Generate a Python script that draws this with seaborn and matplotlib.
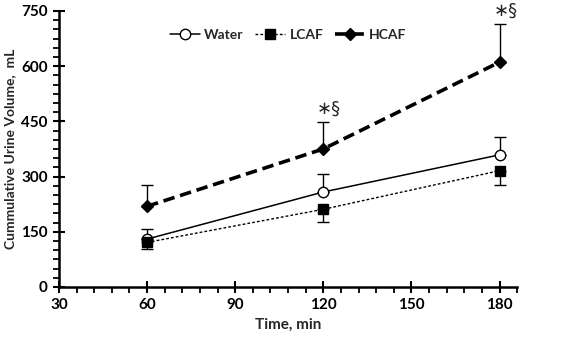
import matplotlib
matplotlib.use("Agg")
import matplotlib.pyplot as plt
import seaborn as sns
import pandas as pd
from matplotlib.ticker import MultipleLocator

times = [60, 120, 180]
water = [130, 258, 359]
water_err = [27, 48, 49]
lcaf = [121, 211, 316]
lcaf_err = [18, 34, 40]
hcaf = [219, 375, 611]
hcaf_err = [57, 74, 104]
x_ticks = [30, 60, 90, 120, 150, 180]
y_ticks = [0, 150, 300, 450, 600, 750]
sig_label = "∗§"
sig_times = [120, 180]

sns.set_theme(style="ticks")
plt.rcParams['font.family'] = ['Lato', 'DejaVu Sans']

fig = plt.figure(figsize=(5.61, 3.42), dpi=100)
ax = fig.add_axes([0.105, 0.161, 0.817, 0.807])

df = pd.DataFrame({
    "Time": times * 3,
    "Volume": water + lcaf + hcaf,
    "Group": ["Water"] * 3 + ["LCAF"] * 3 + ["HCAF"] * 3,
})

styles = {
    "Water": dict(lw=1.1, marker="o", mfc="white", ms=7.5, dashes=None),
    "LCAF": dict(lw=1.0, marker="s", mfc="black", ms=7.5, dashes=(2, 1.5)),
    "HCAF": dict(lw=2.6, marker="D", mfc="black", ms=6.5, dashes=(3.2, 1.6)),
}
errs = {"Water": (water, water_err, "up"), "LCAF": (lcaf, lcaf_err, "down"),
        "HCAF": (hcaf, hcaf_err, "up")}

for g in ["Water", "LCAF", "HCAF"]:
    vals, e, d = errs[g]
    zeros = [0] * len(e)
    yerr = [zeros, e] if d == "up" else [e, zeros]
    ax.errorbar(times, vals, yerr=yerr, fmt="none", ecolor="black", elinewidth=1.0,
                capsize=4, capthick=1.0, zorder=2)
    st = styles[g]
    sub = df[df.Group == g]
    sns.lineplot(data=sub, x="Time", y="Volume", ax=ax, color="black",
                 lw=st["lw"], marker=st["marker"], markersize=st["ms"],
                 markerfacecolor=st["mfc"], markeredgecolor="black", markeredgewidth=1.0,
                 label=g, zorder=3)
    line = ax.lines[-1]
    if st["dashes"] is not None:
        line.set_dashes(st["dashes"])

for t in sig_times:
    top = max(h + e for h, e, tt in zip(hcaf, hcaf_err, times) if tt == t)
    ax.text(t + 2, top + 36, sig_label, ha="center", va="center", fontsize=13,
            family=['DejaVu Sans'], clip_on=False)

ax.set_xlim(30, 186)
ax.set_ylim(0, 750)
ax.set_xticks(x_ticks)
ax.set_yticks(y_ticks)
ax.xaxis.set_minor_locator(MultipleLocator(6))
ax.yaxis.set_minor_locator(MultipleLocator(25))
ax.tick_params(axis="both", which="major", direction="inout", length=9, width=1.5,
               labelsize=11, colors="black")
ax.tick_params(axis="both", which="minor", direction="out", length=4, width=1.3, colors="black")
for lab in ax.get_xticklabels() + ax.get_yticklabels():
    lab.set_fontweight("bold")
for s in ["top", "right"]:
    ax.spines[s].set_visible(False)
for s in ["left", "bottom"]:
    ax.spines[s].set_linewidth(1.8)
    ax.spines[s].set_color("black")

ax.set_xlabel("Time, min", fontsize=11, fontweight="bold", labelpad=4)
ax.set_ylabel("Cummulative Urine Volume,  mL", fontsize=10, fontweight="bold", labelpad=4)

leg = ax.legend(loc="upper center", bbox_to_anchor=(0.5, 0.98), ncol=3, frameon=False,
                fontsize=10, handlelength=2.2, columnspacing=0.8, handletextpad=0.3)
for t in leg.get_texts():
    t.set_fontweight("bold")

fig.savefig("out.png", dpi=100)
